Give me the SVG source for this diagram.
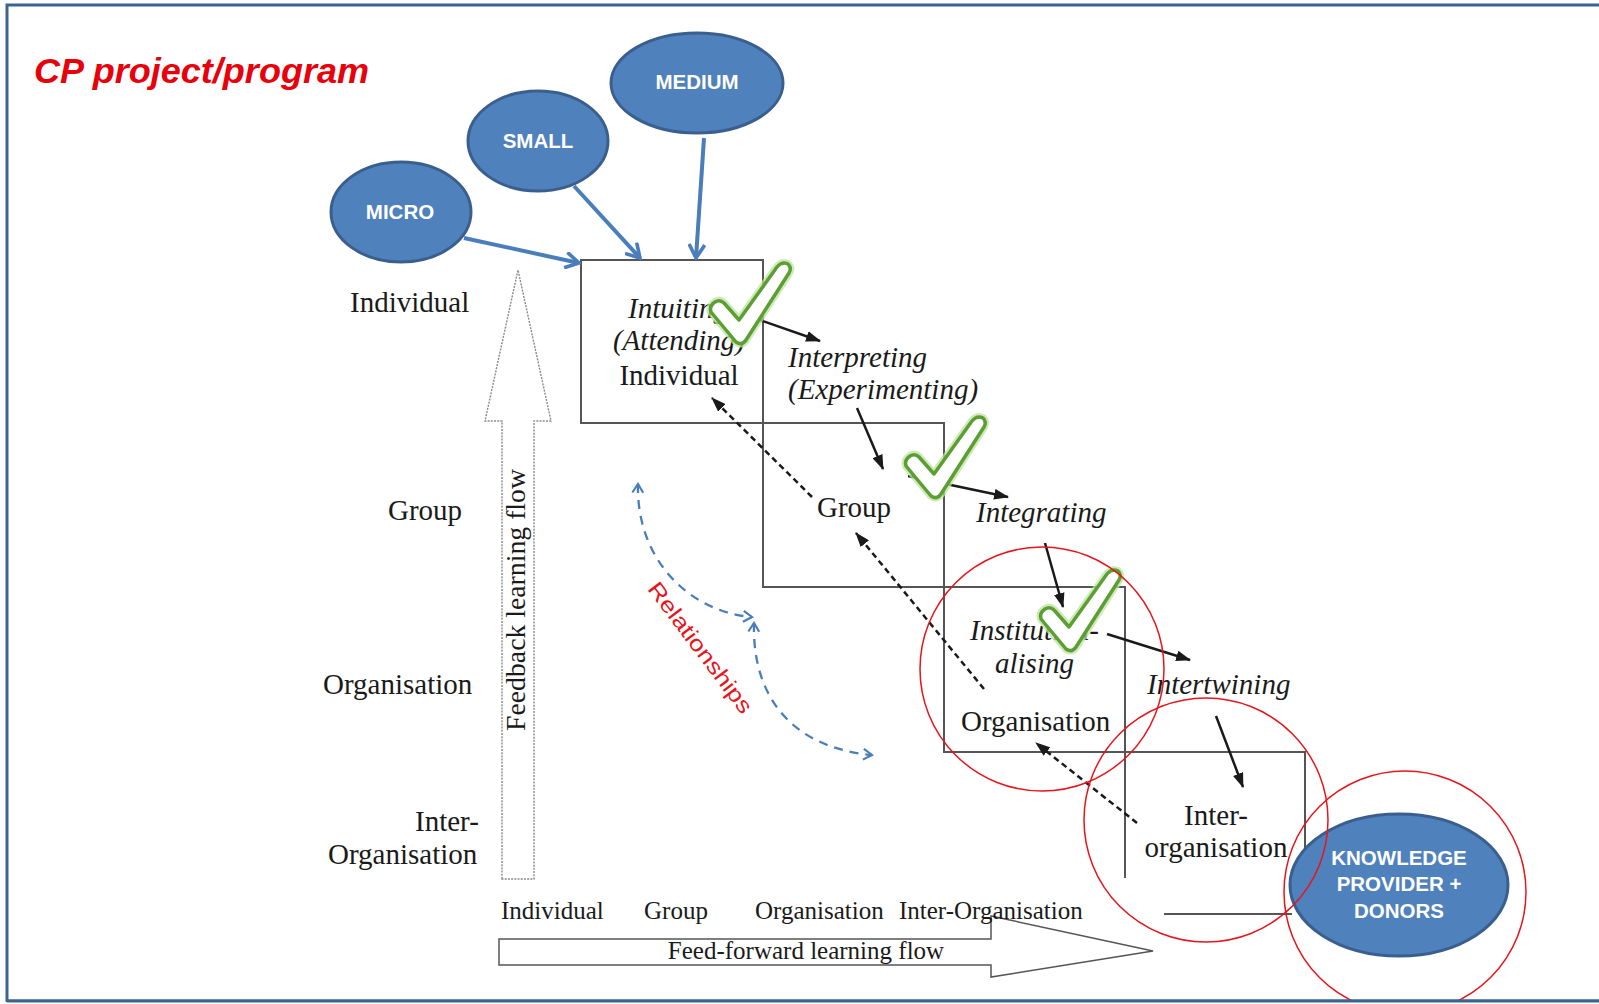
<svg xmlns="http://www.w3.org/2000/svg" width="1599" height="1004" viewBox="0 0 1599 1004">
<style>
.serif{font-family:"Liberation Serif","Times New Roman",serif;font-size:29px;fill:#1a1a1a}
.it{font-style:italic}
.small{font-size:25px}
.ell{fill:#4f81bd;stroke:#3a5f8f;stroke-width:3}
.elltxt{font-family:"Liberation Sans",Arial,sans-serif;font-weight:bold;font-size:20.5px;fill:#fff;text-anchor:middle}
.box{fill:none;stroke:#555;stroke-width:2}
.blue{fill:none;stroke:#4a7ebb;stroke-width:4;marker-end:url(#chev)}
.solid{fill:none;stroke:#1a1a1a;stroke-width:2.5;marker-end:url(#tri)}
.dash{fill:none;stroke:#1a1a1a;stroke-width:2.5;stroke-dasharray:6 4;marker-end:url(#tri)}
.rel{fill:none;stroke:#4a7ebb;stroke-width:2.3;stroke-dasharray:9 7;marker-start:url(#chevs);marker-end:url(#chevs)}
.ring{fill:none;stroke:#e8141b;stroke-width:1.5}
.glow{fill:none;stroke:#bfe3a0;stroke-width:8;stroke-linejoin:round;opacity:0.75}
.chk{fill:#fff;stroke:#5b9f33;stroke-width:3.5;stroke-linejoin:round}
</style>
<defs>
<marker id="chev" viewBox="0 0 16 16" refX="14" refY="8" markerWidth="18" markerHeight="18" markerUnits="userSpaceOnUse" orient="auto">
<path d="M2,1 L14,8 L2,15" fill="none" stroke="#4a7ebb" stroke-width="3.2"/>
</marker>
<marker id="chevs" viewBox="0 0 12 12" refX="10" refY="6" markerWidth="13" markerHeight="13" markerUnits="userSpaceOnUse" orient="auto-start-reverse">
<path d="M2,1 L10,6 L2,11" fill="none" stroke="#4a7ebb" stroke-width="2"/>
</marker>
<marker id="tri" viewBox="0 0 14 10" refX="13" refY="5" markerWidth="15" markerHeight="11" markerUnits="userSpaceOnUse" orient="auto">
<path d="M0,0 L14,5 L0,10 Z" fill="#1a1a1a"/>
</marker>
<path id="check" d="M1,50 Q-1,44 5,40 Q10,37 14,41 L29,58 L67,5 Q72,-1 78,2 Q82,6 79,11 L36,78 Q32,84 26,80 Z"/>
</defs>
<rect x="0" y="0" width="1599" height="1004" fill="#fff"/>
<g id="frame" fill="none" stroke="#3d6491" stroke-width="3">
<path d="M1599,5 L7,5 L7,1001 L1599,1001"/>
</g>
<g id="title">
<text x="34" y="83" font-family="Liberation Sans,Arial,sans-serif" font-weight="bold" font-style="italic" font-size="35" fill="#e8000b" textLength="335" lengthAdjust="spacingAndGlyphs">CP project/program</text>
</g>
<g id="feedback-arrow">
<path d="M502,879 L502,421 L485,421 L518,270 L551,421 L534,421 L534,879 Z" fill="#fff" stroke="#8a8a8a" stroke-width="1.4" stroke-dasharray="2 1.2"/>
<text class="serif" style="font-size:27px" text-anchor="middle" transform="translate(525,600) rotate(-90)" textLength="262" lengthAdjust="spacingAndGlyphs">Feedback learning flow</text>
</g>
<g id="feedforward-arrow">
<path d="M499,939 L991,939 L991,916 L1153,951 L991,977 L991,965 L499,965 Z" fill="#fff" stroke="#555" stroke-width="1.5"/>
<text class="serif" x="806" y="959" style="font-size:25px" text-anchor="middle">Feed-forward learning flow</text>
</g>
<g id="row-labels" class="serif">
<text x="350" y="312">Individual</text>
<text x="388" y="520">Group</text>
<text x="323" y="694">Organisation</text>
<text x="415" y="831">Inter-</text>
<text x="328" y="864">Organisation</text>
</g>
<g id="column-labels" class="serif" style="font-size:25px">
<text x="501" y="919">Individual</text>
<text x="644" y="919">Group</text>
<text x="755" y="919">Organisation</text>
<text x="899" y="919">Inter-Organisation</text>
</g>
<g id="box-individual">
<rect class="box" x="581" y="260" width="182" height="163"/>
<g class="serif" text-anchor="middle">
<text class="it" x="678" y="318">Intuiting</text>
<text class="it" x="679" y="350">(Attending)</text>
<text x="679" y="385">Individual</text>
</g>
</g>
<g id="box-group">
<rect class="box" x="763" y="423" width="181" height="164"/>
<text class="serif" x="854" y="517" text-anchor="middle">Group</text>
</g>
<g id="box-organisation">
<rect class="box" x="944" y="587" width="181" height="165"/>
<g class="serif">
<text class="it" x="970" y="640">Institution-</text>
<text class="it" x="995" y="673">alising</text>
<text x="961" y="731">Organisation</text>
</g>
</g>
<g id="box-interorganisation">
<path class="box" d="M1125,878 L1125,752 L1305,752 L1305,900 M1164,914 L1292,914"/>
<g class="serif" text-anchor="middle">
<text x="1216" y="825">Inter-</text>
<text x="1216" y="857">organisation</text>
</g>
</g>
<g id="process-labels" class="serif it">
<text x="788" y="367">Interpreting</text>
<text x="788" y="399">(Experimenting)</text>
<text x="976" y="522">Integrating</text>
<text x="1147" y="694">Intertwining</text>
</g>
<g id="micro">
<ellipse class="ell" cx="401" cy="212" rx="70" ry="50"/>
<text class="elltxt" x="400" y="219">MICRO</text>
</g>
<g id="small">
<ellipse class="ell" cx="538" cy="141" rx="70" ry="50"/>
<text class="elltxt" x="538" y="148">SMALL</text>
</g>
<g id="medium">
<ellipse class="ell" cx="697" cy="83" rx="86" ry="50"/>
<text class="elltxt" x="697" y="89">MEDIUM</text>
</g>
<g id="connectors">
<path class="blue" d="M464,238 L579,263"/>
<path class="blue" d="M574,186 L640,258"/>
<path class="blue" d="M704,138 L696,258"/>
<path class="solid" d="M760,320 L820,341"/>
<path class="solid" d="M857,408 L883,469"/>
<path class="solid" d="M908,476 L1008,497"/>
<path class="solid" d="M1045,543 L1063,607"/>
<path class="solid" d="M1107,634 L1190,660"/>
<path class="solid" d="M1216,716 L1243,787"/>
<path class="dash" d="M812,497 L712,398"/>
<path class="dash" d="M984,689 L856,533"/>
<path class="dash" d="M1137,823 L1036,743"/>
<path class="rel" d="M638,484 C636,560 690,612 752,617"/>
<path class="rel" d="M754,623 C752,700 795,748 872,755"/>
</g>
<g id="relationships-label">
<text font-family="Liberation Sans,Arial,sans-serif" font-size="22" fill="#e8141b" text-anchor="middle" transform="translate(700,648) rotate(53)" y="7" textLength="158" lengthAdjust="spacingAndGlyphs">Relationships</text>
</g>
<g id="checkmarks">
<g transform="translate(710,262)"><use href="#check" class="glow"/><use href="#check" class="chk"/></g>
<g transform="translate(905,416)"><use href="#check" class="glow"/><use href="#check" class="chk"/></g>
<g transform="translate(1040,569)"><use href="#check" class="glow"/><use href="#check" class="chk"/></g>
</g>
<g id="knowledge">
<ellipse class="ell" cx="1399" cy="885" rx="109" ry="71"/>
<text class="elltxt" x="1399" y="865">KNOWLEDGE</text>
<text class="elltxt" x="1399" y="891">PROVIDER +</text>
<text class="elltxt" x="1399" y="918">DONORS</text>
</g>
<g id="highlight-rings">
<circle class="ring" cx="1042" cy="669" r="122"/>
<circle class="ring" cx="1206" cy="820" r="122"/>
<circle class="ring" cx="1405" cy="892" r="121"/>
</g>
<rect x="0" y="1002" width="1599" height="2" fill="#fff"/>
<path d="M7,1001 L1599,1001" stroke="#3d6491" stroke-width="3"/>
</svg>
